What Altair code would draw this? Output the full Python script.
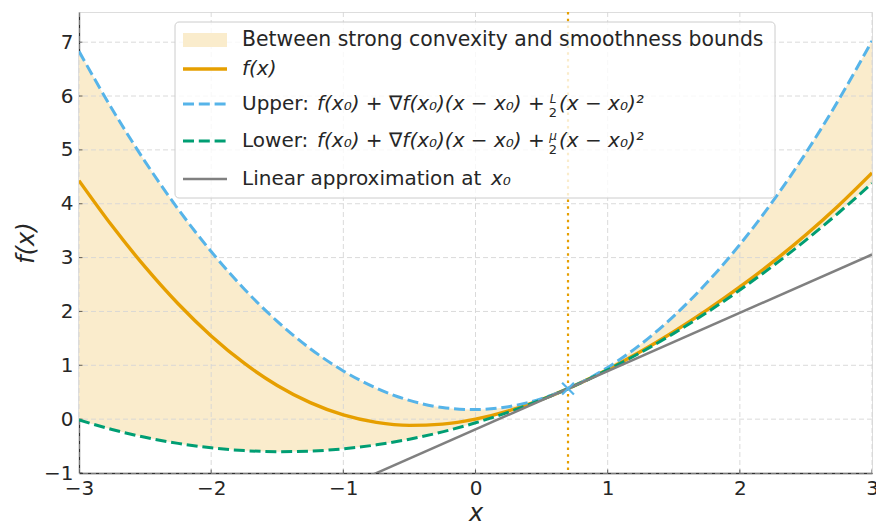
import altair as alt
import pandas as pd

# ---------------- data ----------------
xs = [-3.0, -2.75, -2.5, -2.25, -2.0, -1.75, -1.5, -1.25, -1.0, -0.75, -0.5, -0.25,
      0.0, 0.25, 0.5, 0.7, 0.75, 1.0, 1.25, 1.5, 1.75, 2.0, 2.25, 2.5, 2.75, 3.0]
f_vals = [4.429, 3.590, 2.826, 2.142, 1.545, 1.039, 0.626, 0.307, 0.079, -0.060, -0.115, -0.092,
          0.000, 0.155, 0.365, 0.567, 0.622, 0.921, 1.256, 1.624, 2.023, 2.455, 2.920, 3.424, 3.972, 4.571]
upper_vals = [6.830, 5.760, 4.783, 3.901, 3.112, 2.417, 1.816, 1.308, 0.895, 0.575, 0.348, 0.216,
              0.177, 0.232, 0.381, 0.567, 0.623, 0.959, 1.389, 1.913, 2.531, 3.242, 4.047, 4.945, 5.938, 7.024]
lower_vals = [-0.015, -0.192, -0.337, -0.450, -0.533, -0.584, -0.604, -0.593, -0.551, -0.477, -0.372, -0.236,
              -0.068, 0.131, 0.361, 0.567, 0.622, 0.914, 1.238, 1.593, 1.979, 2.397, 2.845, 3.325, 3.837, 4.379]
lin_x = [-1.0, 3.0]
lin_vals = [-1.273, 3.057]
x0 = [0.7]
fx0 = [0.567]
x_ticks = [-3, -2, -1, 0, 1, 2, 3]
y_ticks = [-1, 0, 1, 2, 3, 4, 5, 6, 7]

# ---------------- styling ----------------
W, H = 793, 461
FONT = "DejaVu Sans"
TXT = "#262626"
C_F = "#E69F00"
C_UP = "#56B4E9"
C_LO = "#009E73"
C_LIN = "#808080"
C_FILL = "#FAECCC"
FS = 20
LFS = 20

df = pd.DataFrame({"x": xs, "f": f_vals, "upper": upper_vals, "lower": lower_vals})
lin_df = pd.DataFrame({"x": lin_x, "y": lin_vals})
pt_df = pd.DataFrame({"x": x0, "y": fx0})
gx_df = pd.DataFrame({"v": x_ticks})
gy_df = pd.DataFrame({"v": y_ticks})
one = pd.DataFrame({"k": [0]})

xscale = alt.Scale(domain=[-3, 3], nice=False, zero=False)
yscale = alt.Scale(domain=[-1, 7.56], nice=False, zero=False)

xaxis = alt.Axis(values=x_ticks, title="x", grid=False, ticks=False,
                 labelFont=FONT, labelFontSize=FS, labelColor=TXT, labelPadding=5,
                 titleFont=FONT, titleFontSize=24, titleFontStyle="italic",
                 titleFontWeight="normal", titleColor=TXT, titlePadding=3,
                 domainColor="#333333", domainWidth=1.3, labelFlush=False)
yaxis = alt.Axis(values=y_ticks, title="f(x)", grid=False, ticks=False,
                 labelFont=FONT, labelFontSize=FS, labelColor=TXT, labelPadding=6,
                 titleFont=FONT, titleFontSize=24, titleFontStyle="italic",
                 titleFontWeight="normal", titleColor=TXT, titlePadding=5,
                 domainColor="#333333", domainWidth=1.3, labelFlush=False)

def X(field):
    return alt.X(field, type="quantitative", scale=xscale, axis=xaxis)

def Y(field):
    return alt.Y(field, type="quantitative", scale=yscale, axis=yaxis)

band = alt.Chart(df).mark_area(color=C_FILL, interpolate="monotone", clip=True).encode(
    x=X("x"), y=Y("upper"), y2="lower:Q")

gridx = alt.Chart(gx_df).mark_rule(color="#d6d6d6", strokeWidth=0.9, strokeDash=[5, 3]).encode(x=X("v"))
gridy = alt.Chart(gy_df).mark_rule(color="#d6d6d6", strokeWidth=0.9, strokeDash=[5, 3]).encode(y=Y("v"))

# inward tick marks (outer half clipped away by the plot frame)
tickx = alt.Chart(gx_df).mark_tick(orient="vertical", size=7, thickness=1.1, color="#333333",
                                   clip=True).encode(x=X("v"), y=alt.value(H))
ticky = alt.Chart(gy_df).mark_tick(orient="horizontal", size=7, thickness=1.1, color="#333333",
                                   clip=True).encode(y=Y("v"), x=alt.value(0))

def curve(field, color, width, dash=None):
    kw = dict(color=color, strokeWidth=width, interpolate="monotone", clip=True)
    if dash:
        kw["strokeDash"] = dash
    return alt.Chart(df).mark_line(**kw).encode(x=X("x"), y=Y(field))

f_line = curve("f", C_F, 3.4)
up_line = curve("upper", C_UP, 3, [11, 4.8])
lo_line = curve("lower", C_LO, 3, [11, 4.8])
lin_line = alt.Chart(lin_df).mark_line(color=C_LIN, strokeWidth=2.5, clip=True).encode(
    x=X("x"), y=Y("y"))
vline = alt.Chart(pt_df).mark_rule(color=C_F, strokeWidth=2.2, strokeDash=[2.5, 4.2]).encode(x=X("x"))
marker = alt.Chart(pt_df).mark_point(
    shape="M-1,-1L1,1M-1,1L1,-1", filled=False, color=C_UP, strokeWidth=2.2, size=140, opacity=1
).encode(x=X("x"), y=Y("y"))

# ---------------- legend (drawn in pixel space) ----------------
def txt(s, x, y, size=LFS, style="normal", align="left"):
    return alt.Chart(one).mark_text(text=s, font=FONT, fontSize=size, fontStyle=style,
                                    align=align, baseline="middle", color=TXT).encode(
        x=alt.value(x), y=alt.value(y))

def seg(x1, x2, y, color, width, dash=None):
    kw = dict(color=color, strokeWidth=width)
    if dash:
        kw["strokeDash"] = dash
    return alt.Chart(one).mark_rule(**kw).encode(
        x=alt.value(x1), x2=alt.value(x2), y=alt.value(y))

box = alt.Chart(one).mark_rect(fill="white", fillOpacity=0.8, stroke="#cccccc",
                               strokeWidth=1, cornerRadius=4).encode(
    x=alt.value(96), x2=alt.value(696), y=alt.value(10), y2=alt.value(186))

sx1, sx2, tx = 104, 148, 163
r1, r2, r3, r4, r5 = 28, 57, 92, 129, 167
fx_a, fr_x, fx_b = 238, 474, 480

legend_layers = [
    box,
    alt.Chart(one).mark_rect(color=C_FILL).encode(
        x=alt.value(sx1), x2=alt.value(sx2), y=alt.value(r1 - 7), y2=alt.value(r1 + 7)),
    txt("Between strong convexity and smoothness bounds", tx, r1, size=20.4),
    seg(sx1, sx2, r2, C_F, 3.4),
    txt("f(x)", tx, r2, style="italic"),
    seg(sx1, sx2, r3, C_UP, 3, [11, 4.8]),
    txt("Upper:", tx, r3),
    txt("f(x₀) + ∇f(x₀)(x − x₀) +", fx_a, r3, style="italic"),
    txt("L", fr_x, r3 - 5, size=12, style="italic", align="center"),
    txt("2", fr_x, r3 + 9, size=13, align="center"),
    txt("(x − x₀)²", fx_b, r3, style="italic"),
    seg(sx1, sx2, r4, C_LO, 3, [11, 4.8]),
    txt("Lower:", tx, r4),
    txt("f(x₀) + ∇f(x₀)(x − x₀) +", fx_a, r4, style="italic"),
    txt("μ", fr_x, r4 - 5, size=12, style="italic", align="center"),
    txt("2", fr_x, r4 + 9, size=13, align="center"),
    txt("(x − x₀)²", fx_b, r4, style="italic"),
    seg(sx1, sx2, r5, C_LIN, 2.5),
    txt("Linear approximation at", tx, r5),
    txt("x₀", 412, r5, style="italic"),
]

chart = alt.layer(
    band, gridx, gridy, tickx, ticky, f_line, up_line, lo_line, lin_line, vline, marker,
    *legend_layers
).properties(
    width=W, height=H,
    autosize=alt.AutoSizeParams(type="none"),
    padding={"left": 79, "top": 12, "right": 4, "bottom": 50},
).configure_view(stroke="transparent", strokeWidth=0).configure(background="white")

chart.save("out.html", embed_options={"renderer": "svg", "actions": False})
